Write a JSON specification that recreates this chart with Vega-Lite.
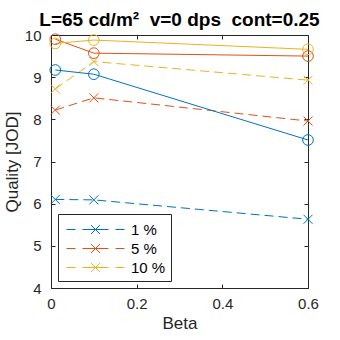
{
  "$schema": "https://vega.github.io/schema/vega-lite/v6.json",
  "width": 257,
  "height": 253,
  "autosize": {"type": "none"},
  "padding": {"left": 51, "top": 35, "right": 32, "bottom": 52},
  "background": "white",
  "title": {
    "text": "L=65 cd/m²\u00a0\u00a0v=0 dps\u00a0\u00a0cont=0.25",
    "font": "Liberation Sans",
    "fontSize": 19,
    "fontWeight": "bold",
    "color": "black",
    "offset": 8,
    "dy": 25,
    "baseline": "alphabetic"
  },
  "config": {
    "font": "Liberation Sans",
    "view": {"stroke": "#262626", "strokeWidth": 1},
    "axis": {
      "grid": false,
      "domainColor": "#262626",
      "tickColor": "#262626",
      "labelColor": "#262626",
      "titleColor": "#262626",
      "labelFont": "Liberation Sans",
      "titleFont": "Liberation Sans",
      "labelFontSize": 15,
      "titleFontSize": 17,
      "titleFontWeight": "normal",
      "labelFlush": false,
      "labelOverlap": false,
      "tickSize": -4
    },
    "legend": {
      "labelFont": "Liberation Sans",
      "labelFontSize": 15,
      "labelColor": "black"
    }
  },
  "data": {
    "values": [
      {"beta": 0.01, "q": 6.10, "pct": "1 %", "kind": "x"},
      {"beta": 0.1, "q": 6.09, "pct": "1 %", "kind": "x"},
      {"beta": 0.6, "q": 5.63, "pct": "1 %", "kind": "x"},
      {"beta": 0.01, "q": 8.22, "pct": "5 %", "kind": "x"},
      {"beta": 0.1, "q": 8.51, "pct": "5 %", "kind": "x"},
      {"beta": 0.6, "q": 7.96, "pct": "5 %", "kind": "x"},
      {"beta": 0.01, "q": 8.72, "pct": "10 %", "kind": "x"},
      {"beta": 0.1, "q": 9.37, "pct": "10 %", "kind": "x"},
      {"beta": 0.6, "q": 8.93, "pct": "10 %", "kind": "x"},
      {"beta": 0.01, "q": 9.17, "pct": "1 %", "kind": "o"},
      {"beta": 0.1, "q": 9.07, "pct": "1 %", "kind": "o"},
      {"beta": 0.6, "q": 7.51, "pct": "1 %", "kind": "o"},
      {"beta": 0.01, "q": 9.90, "pct": "5 %", "kind": "o"},
      {"beta": 0.1, "q": 9.57, "pct": "5 %", "kind": "o"},
      {"beta": 0.6, "q": 9.50, "pct": "5 %", "kind": "o"},
      {"beta": 0.01, "q": 9.80, "pct": "10 %", "kind": "o"},
      {"beta": 0.1, "q": 9.88, "pct": "10 %", "kind": "o"},
      {"beta": 0.6, "q": 9.66, "pct": "10 %", "kind": "o"}
    ]
  },
  "resolve": {"axis": {"x": "independent", "y": "independent"}},
  "layer": [
    {
      "transform": [{"filter": "datum.kind == 'x'"}],
      "mark": {"type": "line", "strokeWidth": 1, "strokeDash": [9, 5], "clip": true},
      "encoding": {
        "x": {"field": "beta", "type": "quantitative", "scale": {"domain": [0, 0.6], "nice": false, "zero": false},
          "axis": {"orient": "bottom", "values": [0, 0.2, 0.4, 0.6], "format": "~g", "title": "Beta", "labelPadding": 12, "titlePadding": 4, "domain": false}},
        "y": {"field": "q", "type": "quantitative", "scale": {"domain": [4, 10], "nice": false, "zero": false},
          "axis": {"orient": "left", "values": [4, 5, 6, 7, 8, 9, 10], "title": "Quality [JOD]", "labelPadding": 14, "titlePadding": 3, "domain": false}},
        "color": {"field": "pct", "type": "nominal",
          "scale": {"domain": ["1 %", "5 %", "10 %"], "range": ["#0072BD", "#D95319", "#EDB120"]},
          "legend": {
            "title": null,
            "orient": "none",
            "legendX": 7,
            "legendY": 179,
            "symbolType": "M-2.9,0H-2M-1.3,0H1.3M2,0H2.9M-0.45,-0.45L0.45,0.45M-0.45,0.45L0.45,-0.45",
            "symbolSize": 400,
            "symbolStrokeWidth": 1,
            "symbolDash": [],
            "symbolOffset": 22,
            "labelOffset": 25,
            "rowPadding": 0,
            "padding": 5,
            "strokeColor": "#262626",
            "fillColor": "white"
          }
        }
      }
    },
    {
      "transform": [{"filter": "datum.kind == 'o'"}],
      "mark": {"type": "line", "strokeWidth": 1, "clip": true},
      "encoding": {
        "x": {"field": "beta", "type": "quantitative", "axis": null},
        "y": {"field": "q", "type": "quantitative", "axis": null},
        "color": {"field": "pct", "type": "nominal"}
      }
    },
    {
      "transform": [{"filter": "datum.kind == 'x'"}],
      "mark": {"type": "point", "shape": "M-1,-1L1,1M-1,1L1,-1", "filled": false, "size": 81, "strokeWidth": 1, "opacity": 1},
      "encoding": {
        "x": {"field": "beta", "type": "quantitative", "axis": null},
        "y": {"field": "q", "type": "quantitative", "axis": null},
        "color": {"field": "pct", "type": "nominal"}
      }
    },
    {
      "transform": [{"filter": "datum.kind == 'o'"}],
      "mark": {"type": "point", "shape": "circle", "filled": false, "size": 113, "strokeWidth": 1, "opacity": 1},
      "encoding": {
        "x": {"field": "beta", "type": "quantitative",
          "axis": {"orient": "top", "values": [0, 0.2, 0.4, 0.6], "labels": false, "title": null, "domain": false}},
        "y": {"field": "q", "type": "quantitative",
          "axis": {"orient": "right", "values": [4, 5, 6, 7, 8, 9, 10], "labels": false, "title": null, "domain": false}},
        "color": {"field": "pct", "type": "nominal"}
      }
    }
  ]
}
